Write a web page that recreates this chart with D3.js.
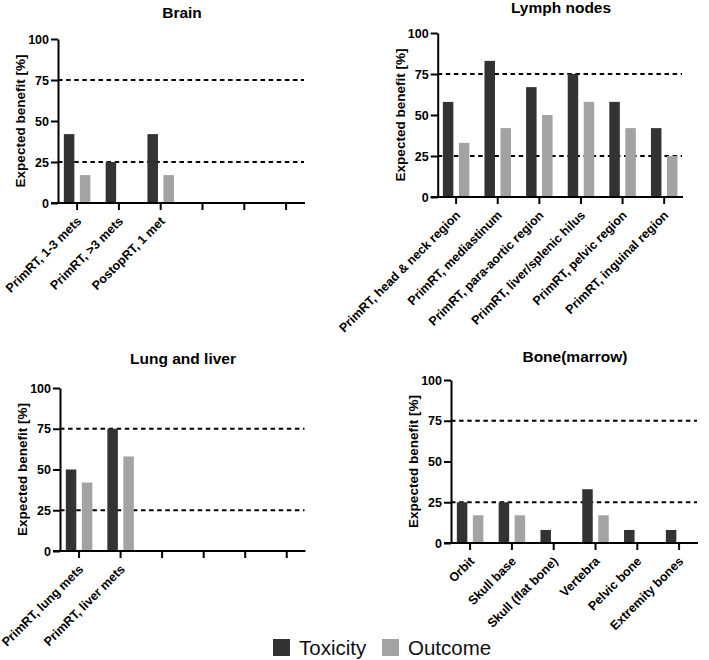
<!DOCTYPE html>
<html>
<head>
<meta charset="utf-8">
<script src="https://cdn.jsdelivr.net/npm/d3@7"></script>
<style>
  body { margin: 0; background: #fff; }
  svg { display: block; }
  text { font-family: "Liberation Sans", Arial, sans-serif; }
</style>
</head>
<body>
<svg id="chart" width="709" height="660"></svg>
<script>
// ---- data ----
const brainCategories = ["PrimRT, 1-3 mets", "PrimRT, >3 mets", "PostopRT, 1 met", "", "", ""];
const brainToxicity = [42, 25, 42, null, null, null];
const brainOutcome = [17, 0, 17, null, null, null];

const lymphCategories = ["PrimRT, head & neck region", "PrimRT, mediastinum", "PrimRT, para-aortic region",
  "PrimRT, liver/splenic hilus", "PrimRT, pelvic region", "PrimRT, inguinal region"];
const lymphToxicity = [58, 83, 67, 75, 58, 42];
const lymphOutcome = [33, 42, 50, 58, 42, 25];

const lungCategories = ["PrimRT, lung mets", "PrimRT, liver mets", "", "", "", ""];
const lungToxicity = [50, 75, null, null, null, null];
const lungOutcome = [42, 58, null, null, null, null];

const boneCategories = ["Orbit", "Skull base", "Skull (flat bone)", "Vertebra", "Pelvic bone", "Extremity bones"];
const boneToxicity = [25, 25, 8, 33, 8, 8];
const boneOutcome = [17, 17, 0, 17, 0, 0];

const yTicks = [0, 25, 50, 75, 100];
const thresholds = [25, 75];
const seriesNames = ["Toxicity", "Outcome"];
const seriesColors = ["#333333", "#a3a3a3"];
const yLabel = "Expected benefit [%]";

// ---- layout ----
const panels = [
  { title: "Brain", cats: brainCategories, tox: brainToxicity, out: brainOutcome,
    axisX: 58, x0: 56.2, x1: 307, y0: 203, y1: 39, titleX: 182, titleY: 18 },
  { title: "Lymph nodes", cats: lymphCategories, tox: lymphToxicity, out: lymphOutcome,
    axisX: 437.7, x0: 435.3, x1: 685, y0: 197, y1: 33, titleX: 561, titleY: 13 },
  { title: "Lung and liver", cats: lungCategories, tox: lungToxicity, out: lungOutcome,
    axisX: 60, x0: 58.3, x1: 307.5, y0: 551, y1: 388, titleX: 183, titleY: 364 },
  { title: "Bone(marrow)", cats: boneCategories, tox: boneToxicity, out: boneOutcome,
    axisX: 451, x0: 449.2, x1: 700, y0: 543, y1: 380, titleX: 575, titleY: 362 }
];

const svg = d3.select("#chart");
const barW = 10.5, barOff = 8;

panels.forEach(p => {
  const g = svg.append("g");
  const idx = d3.range(p.cats.length);
  const x = d3.scaleBand().domain(idx).range([p.x0, p.x1]);
  const y = d3.scaleLinear().domain([0, 100]).range([p.y0, p.y1]);

  // dashed threshold lines
  g.selectAll("line.thr").data(thresholds).join("line")
    .attr("x1", p.axisX).attr("x2", p.x1 - 3)
    .attr("y1", d => y(d)).attr("y2", d => y(d))
    .attr("stroke", "#000").attr("stroke-width", 2)
    .attr("stroke-dasharray", "4.5,3.6");

  // bars
  const rows = idx.map(i => ({ i, tox: p.tox[i], out: p.out[i] }));
  [["tox", -barOff, seriesColors[0]], ["out", barOff, seriesColors[1]]].forEach(([key, off, col]) => {
    g.selectAll("rect." + key).data(rows.filter(r => r[key] != null && r[key] > 0)).join("rect")
      .attr("x", r => x(r.i) + x.bandwidth() / 2 + off - barW / 2)
      .attr("width", barW)
      .attr("y", r => y(r[key]))
      .attr("height", r => y(0) - y(r[key]))
      .attr("fill", col);
  });

  // y axis
  const ya = g.append("g").attr("transform", `translate(${p.axisX},0)`)
    .call(d3.axisLeft(y).tickValues(yTicks).tickSize(7).tickSizeOuter(0).tickPadding(2));
  ya.select(".domain").attr("stroke-width", 2);
  ya.selectAll(".tick line").attr("stroke-width", 2);
  ya.selectAll(".tick text").attr("font-size", 12.5).attr("font-weight", "bold")
    .attr("font-family", "'Liberation Sans', Arial, sans-serif").attr("fill", "#000");

  // x axis
  const xa = g.append("g").attr("transform", `translate(0,${p.y0})`)
    .call(d3.axisBottom(x).tickSize(7).tickSizeOuter(0).tickFormat(i => p.cats[i]));
  xa.select(".domain").attr("stroke-width", 2).attr("d", `M${p.axisX - 7},0H${p.x1 - 2}`);
  xa.selectAll(".tick line").attr("stroke-width", 2);
  xa.selectAll(".tick text")
    .attr("font-size", 12.5).attr("font-weight", "bold")
    .attr("font-family", "'Liberation Sans', Arial, sans-serif").attr("fill", "#000")
    .attr("text-anchor", "end")
    .attr("x", 0).attr("y", 0).attr("dy", 0)
    .attr("transform", "translate(5,19) rotate(-45)");

  // y label
  g.append("text")
    .attr("transform", `translate(${p.axisX - 33},${(p.y0 + p.y1) / 2}) rotate(-90)`)
    .attr("text-anchor", "middle")
    .attr("font-size", 13.5).attr("font-weight", "bold")
    .text(yLabel);

  // title
  g.append("text")
    .attr("x", p.titleX).attr("y", p.titleY)
    .attr("text-anchor", "middle")
    .attr("font-size", 15.5).attr("font-weight", "bold")
    .text(p.title);
});

// legend
const legend = svg.append("g");
const legendX = [273, 382];
seriesNames.forEach((name, i) => {
  legend.append("rect").attr("x", legendX[i]).attr("y", 639).attr("width", 17).attr("height", 17)
    .attr("fill", seriesColors[i]);
  legend.append("text").attr("x", legendX[i] + 26).attr("y", 655)
    .attr("font-size", 20.5).attr("fill", "#111").text(name);
});
</script>
</body>
</html>
